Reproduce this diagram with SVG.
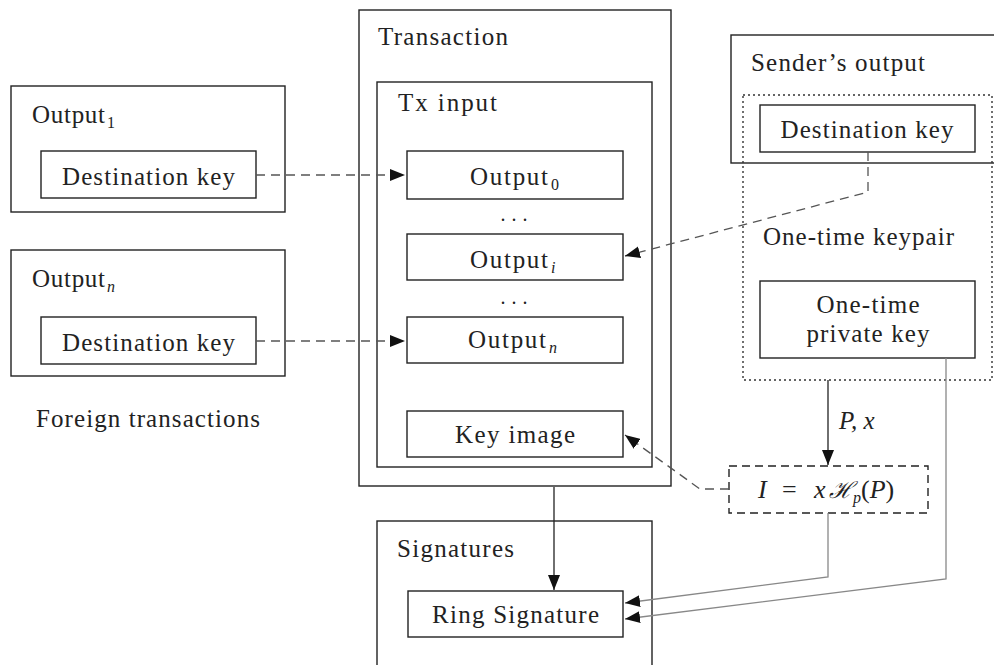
<svg xmlns="http://www.w3.org/2000/svg" width="994" height="665" viewBox="0 0 994 665">
<style>
.box{fill:none;stroke:#222;stroke-width:1.4}
.dot{fill:none;stroke:#333;stroke-width:1.4;stroke-dasharray:2 3}
.dbox{fill:none;stroke:#222;stroke-width:1.4;stroke-dasharray:8 5}
text{font-family:"Liberation Serif","Times New Roman",serif;font-size:25px;fill:#222}
.sub{font-size:16px}
.it{font-style:italic}
.dash{fill:none;stroke:#555;stroke-width:1.3;stroke-dasharray:9 6}
.solid{fill:none;stroke:#222;stroke-width:1.3}
.gray{fill:none;stroke:#888;stroke-width:1.3}
</style>
<defs>
<marker id="ah" markerUnits="userSpaceOnUse" markerWidth="16" markerHeight="12" viewBox="0 0 16 12" refX="15" refY="6" orient="auto">
<path d="M0,0 L15,6 L0,12 Z" fill="#111"/>
</marker>
</defs>
<rect width="994" height="665" fill="#fff"/>

<g id="foreign1">
<rect class="box" x="11" y="86" width="274" height="126"/>
<text x="32" y="123" textLength="73" lengthAdjust="spacing">Output</text>
<text class="sub" x="107" y="128">1</text>
<rect class="box" x="41" y="151" width="215" height="47"/>
<text x="62" y="185" textLength="173" lengthAdjust="spacing">Destination key</text>
</g>
<g id="foreignN">
<rect class="box" x="11" y="250" width="274" height="126"/>
<text x="32" y="287" textLength="73" lengthAdjust="spacing">Output</text>
<text class="sub it" x="107" y="292">n</text>
<rect class="box" x="41" y="317" width="215" height="47"/>
<text x="62" y="351" textLength="173" lengthAdjust="spacing">Destination key</text>
</g>
<text id="foreign-label" x="36" y="427" textLength="224" lengthAdjust="spacing">Foreign transactions</text>

<g id="transaction">
<rect class="box" x="359" y="10" width="312" height="476"/>
<text x="378" y="45" textLength="130" lengthAdjust="spacing">Transaction</text>
</g>
<g id="txinput">
<rect class="box" x="377" y="82" width="275" height="385"/>
<text x="398" y="111" textLength="99" lengthAdjust="spacing">Tx input</text>
</g>
<g id="output0">
<rect class="box" x="407" y="151" width="216" height="48"/>
<text x="470" y="185" textLength="78" lengthAdjust="spacing">Output</text>
<text class="sub" x="551" y="190">0</text>
</g>
<text id="dots1" x="514" y="221" text-anchor="middle" style="font-size:20px" textLength="27" lengthAdjust="spacing">...</text>
<g id="outputi">
<rect class="box" x="407" y="234" width="216" height="46"/>
<text x="470" y="268" textLength="78" lengthAdjust="spacing">Output</text>
<text class="sub it" x="551" y="273">i</text>
</g>
<text id="dots2" x="514" y="304" text-anchor="middle" style="font-size:20px" textLength="27" lengthAdjust="spacing">...</text>
<g id="outputn">
<rect class="box" x="407" y="317" width="216" height="46"/>
<text x="468" y="348" textLength="78" lengthAdjust="spacing">Output</text>
<text class="sub it" x="549" y="353">n</text>
</g>
<g id="keyimage">
<rect class="box" x="407" y="411" width="216" height="46"/>
<text x="515" y="443" text-anchor="middle" textLength="120" lengthAdjust="spacing">Key image</text>
</g>

<g id="signatures">
<rect class="box" x="377" y="521" width="275" height="150"/>
<text x="397" y="557" textLength="117" lengthAdjust="spacing">Signatures</text>
</g>
<g id="ringsig">
<rect class="box" x="408" y="591" width="215" height="46"/>
<text x="432" y="623" textLength="167" lengthAdjust="spacing">Ring Signature</text>
</g>

<g id="sender">
<rect class="box" x="731" y="35" width="266" height="128"/>
<text x="751" y="71" textLength="174" lengthAdjust="spacing">Sender’s output</text>
</g>
<g id="keypair">
<rect class="dot" x="743" y="95" width="249" height="285"/>
<text x="763" y="245" textLength="191" lengthAdjust="spacing">One-time keypair</text>
</g>
<g id="destkey">
<rect class="box" x="760" y="105" width="215" height="47"/>
<text x="867" y="138" text-anchor="middle" textLength="173" lengthAdjust="spacing">Destination key</text>
</g>
<g id="privkey">
<rect class="box" x="760" y="281" width="215" height="77"/>
<text x="868" y="313" text-anchor="middle" textLength="103" lengthAdjust="spacing">One-time</text>
<text x="868" y="342" text-anchor="middle" textLength="123" lengthAdjust="spacing">private key</text>
</g>
<g id="keyimagecalc">
<rect class="dbox" x="729" y="466" width="199" height="47"/>
<text y="498" style="font-size:26px"><tspan class="it" x="758">I</tspan><tspan x="782">=</tspan><tspan class="it" x="814">x</tspan><tspan x="829" font-family="DejaVu Serif, serif" font-style="italic" font-size="23">ℋ</tspan><tspan class="it" font-size="16" dy="5">p</tspan><tspan dy="-5">(</tspan><tspan class="it">P</tspan>)</text>
</g>

<g id="connectors">
<path class="dash" d="M256,175 H405" marker-end="url(#ah)"/>
<path class="dash" d="M256,341 H405" marker-end="url(#ah)"/>
<path class="dash" d="M868,152 V192 L625,256" marker-end="url(#ah)"/>
<path class="dash" d="M729,489 H700 L625,435" marker-end="url(#ah)"/>
<path class="solid" d="M554,487 V590" marker-end="url(#ah)"/>
<path class="solid" d="M828,380 V465" marker-end="url(#ah)"/>
<path class="gray" d="M828,513 V577 L625,603" marker-end="url(#ah)"/>
<path class="gray" d="M946,358 V579 L625,619" marker-end="url(#ah)"/>
<text x="839" y="429" class="it">P, x</text>
</g>
</svg>
